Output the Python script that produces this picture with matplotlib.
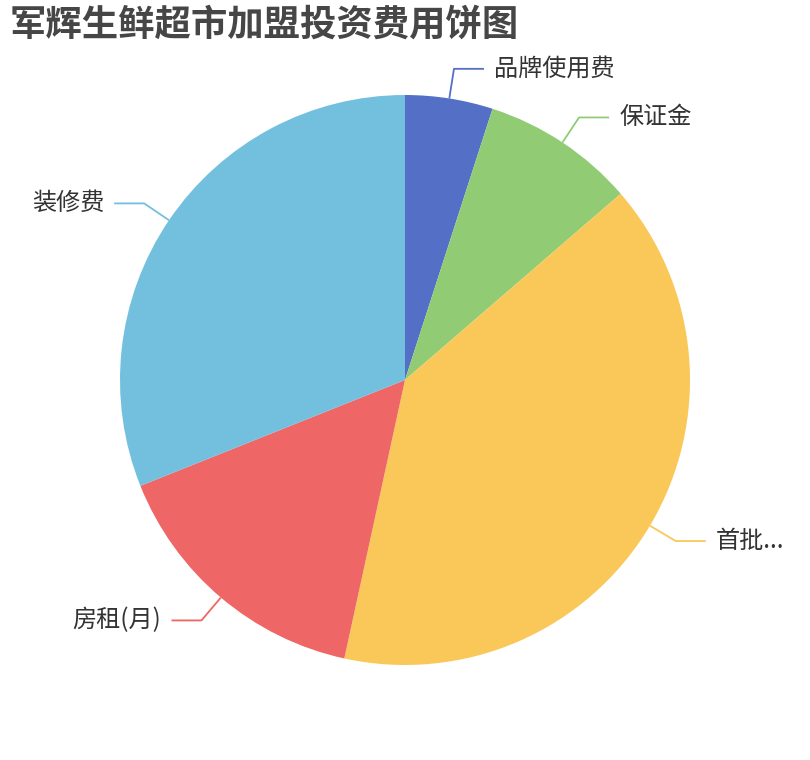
import matplotlib
matplotlib.use('Agg')
import matplotlib.pyplot as plt
import numpy as np

plt.rcParams['font.family'] = ['Noto Sans CJK SC', 'DejaVu Sans']

# 数据
labels = ['品牌使用费', '保证金', '首批...', '房租(月)', '装修费']
values = [0.8, 1.4, 6.4, 2.5, 5.0]
colors = ['#5470c6', '#91cc75', '#fac858', '#ee6666', '#73c0de']
title = '军辉生鲜超市加盟投资费用饼图'

W, H = 810, 760
cx, cy, R = 405, 380, 285

fig = plt.figure(figsize=(W / 100, H / 100), dpi=100)
ax = fig.add_axes([0, 0, 1, 1])
ax.set_xlim(0, W)
ax.set_ylim(0, H)
ax.set_aspect('equal')
ax.axis('off')

wedges, _ = ax.pie(values, colors=colors, startangle=90, counterclock=False,
                   center=(cx, H - cy), radius=R,
                   wedgeprops=dict(linewidth=0))
ax.set_xlim(0, W)
ax.set_ylim(0, H)

for w, lab, c in zip(wedges, labels, colors):
    ang = np.deg2rad((w.theta1 + w.theta2) / 2)
    x0, y0 = cx + R * np.cos(ang), H - cy + R * np.sin(ang)
    x1, y1 = cx + (R + 30) * np.cos(ang), H - cy + (R + 30) * np.sin(ang)
    side = 1 if np.cos(ang) >= 0 else -1
    x2 = x1 + side * 30
    ax.plot([x0, x1, x2], [y0, y1, y1], color=c, lw=1.3, solid_capstyle='butt')
    ax.text(x2 + side * 10, y1, lab, fontsize=17.4, color='#333333',
            ha='left' if side > 0 else 'right', va='center')

fig.text(10 / W, 1 - 25 / H, title, fontsize=26.2, fontweight='bold',
         color='#464646', ha='left', va='center')

fig.savefig('out.png', dpi=100)
